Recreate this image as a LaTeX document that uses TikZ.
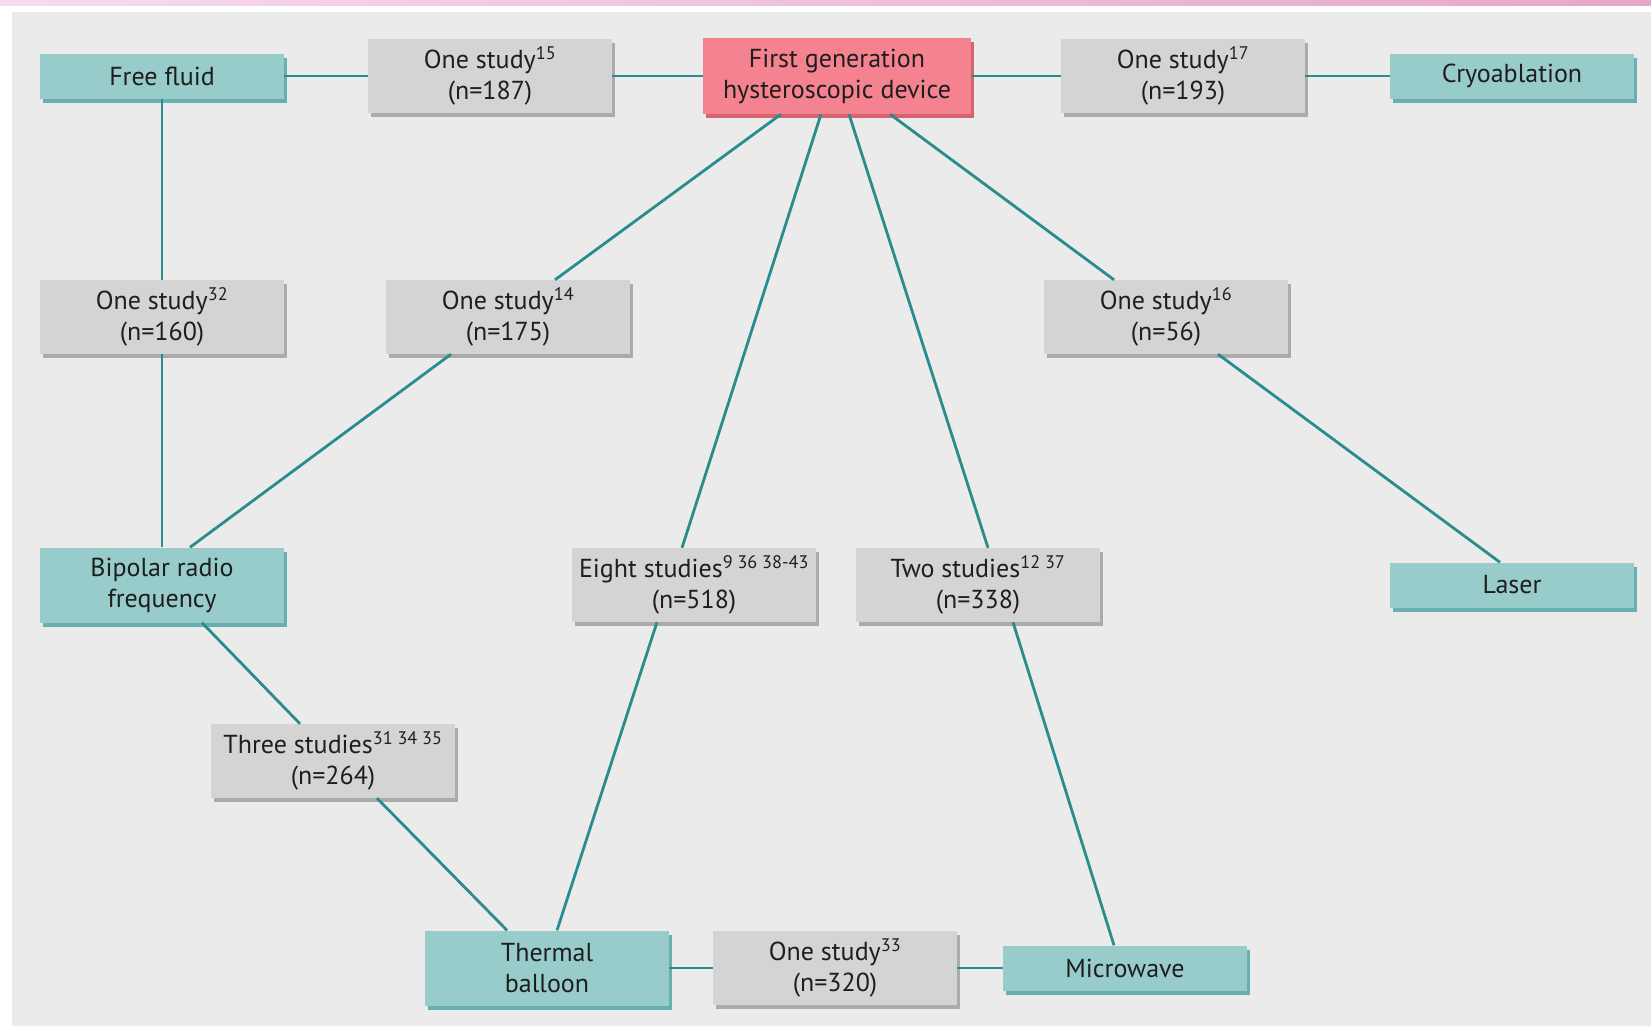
\documentclass[tikz,border=0pt]{standalone}
\usepackage{fontspec}
\setmainfont{PT Sans}
\usetikzlibrary{shadows,calc}
\definecolor{panel}{HTML}{EBEBEB}
\definecolor{tealfill}{HTML}{98CCCB}
\definecolor{tealshad}{HTML}{69AFAF}
\definecolor{grayfill}{HTML}{D4D4D4}
\definecolor{grayshad}{HTML}{ABABAB}
\definecolor{redfill}{HTML}{F4838F}
\definecolor{redshad}{HTML}{D5646F}
\definecolor{linec}{HTML}{2A8C8C}
\definecolor{txt}{HTML}{1E1E1E}
\definecolor{pinkA}{HTML}{F6DCEB}
\definecolor{pinkB}{HTML}{E6A6CB}
\newcommand{\boxfont}{\fontsize{26}{31}\selectfont}
\newcommand{\sref}[1]{\textsuperscript{#1}}
\tikzset{
  basebox/.style={rectangle, minimum width=244pt, inner sep=2pt, align=center, font=\boxfont, text=txt},
  tealbox/.style={basebox, fill=tealfill, minimum height=45pt,
    drop shadow={shadow xshift=3pt, shadow yshift=-4pt, fill=tealshad, opacity=1}},
  tealbox2/.style={tealbox, minimum height=75pt},
  graybox/.style={basebox, fill=grayfill, minimum height=74pt,
    drop shadow={shadow xshift=3pt, shadow yshift=-4pt, fill=grayshad, opacity=1}},
  redbox/.style={basebox, fill=redfill, minimum height=76pt, minimum width=268pt,
    drop shadow={shadow xshift=3pt, shadow yshift=-4pt, fill=redshad, opacity=1}},
  link/.style={draw=linec, line width=2.8pt}
}
\begin{document}
\begin{tikzpicture}[x=1pt,y=-1pt]
\useasboundingbox (0,0) rectangle (1651,1026);
\fill[white] (0,0) rectangle (1651,1026);
\shade[left color=pinkA, right color=pinkB] (0,0) rectangle (1651,5);
\fill[panel] (12,12) rectangle (1651,1026);

% top row
\node[tealbox] (ff) at (162,76) {Free fluid};
\node[graybox] (s15) at (490,76) {One study\sref{15}\\(n=187)};
\node[redbox] (fg) at (837,76) {First generation\\hysteroscopic device};
\node[graybox] (s17) at (1183,76) {One study\sref{17}\\(n=193)};
\node[tealbox] (cryo) at (1512,76) {Cryoablation};

% second row
\node[graybox] (s32) at (162,317) {One study\sref{32}\\(n=160)};
\node[graybox] (s14) at (508,317) {One study\sref{14}\\(n=175)};
\node[graybox] (s16) at (1166,317) {One study\sref{16}\\(n=56)};

% third row
\node[tealbox2] (bip) at (162,585) {Bipolar radio\\frequency};
\node[graybox] (s8) at (694,585) {Eight studies\sref{9 36 38-43}\\(n=518)};
\node[graybox] (s2) at (978,585) {Two studies\sref{12 37}\\(n=338)};
\node[tealbox] (laser) at (1512,585) {Laser};

% fourth row
\node[graybox] (s3) at (333,761) {Three studies\sref{31 34 35}\\(n=264)};

% bottom row
\node[tealbox2] (tb) at (547,968) {Thermal\\balloon};
\node[graybox] (s33) at (835,968) {One study\sref{33}\\(n=320)};
\node[tealbox] (mw) at (1125,968) {Microwave};

% connectors
\draw[link] (ff) -- (s15);
\draw[link] (s15) -- (fg);
\draw[link] (fg) -- (s17);
\draw[link] (s17) -- (cryo);
\draw[link] (ff.south) -- (s32.north);
\draw[link] (s32.south) -- (bip.north);
\draw[link] ([xshift=-56pt]fg.south) -- ([xshift=47pt]s14.north);
\draw[link] ([xshift=-57pt]s14.south) -- ([xshift=28pt]bip.north);
\draw[link] ([xshift=-16pt]fg.south) -- ([xshift=-12pt]s8.north);
\draw[link] ([xshift=-37pt]s8.south) -- ([xshift=10pt]tb.north);
\draw[link] ([xshift=12pt]fg.south) -- ([xshift=10pt]s2.north);
\draw[link] ([xshift=35pt]s2.south) -- ([xshift=-11pt]mw.north);
\draw[link] ([xshift=53pt]fg.south) -- ([xshift=-52pt]s16.north);
\draw[link] ([xshift=52pt]s16.south) -- ([xshift=-12pt]laser.north);
\draw[link] ([xshift=40pt]bip.south) -- ([xshift=-33pt]s3.north);
\draw[link] ([xshift=44pt]s3.south) -- ([xshift=-40pt]tb.north);
\draw[link] (tb) -- (s33);
\draw[link] (s33) -- (mw);
\end{tikzpicture}
\end{document}
